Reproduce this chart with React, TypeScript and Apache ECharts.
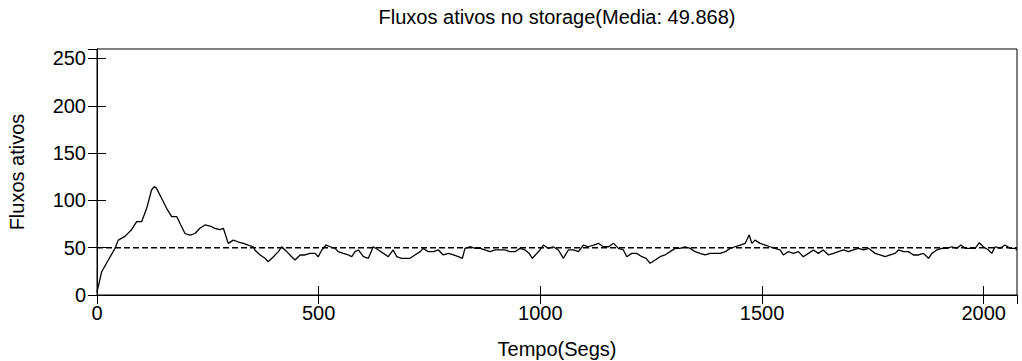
import React, { useEffect, useRef } from "react";
import * as echarts from "echarts";

const TITLE = "Fluxos ativos no storage(Media: 49.868)";
const X_NAME = "Tempo(Segs)";
const Y_NAME = "Fluxos ativos";
const MEAN = 49.868;
const X_MAX = 2075;
const Y_MAX = 260;

const times: number[] = [
  0, 10.6, 25.6, 40.6, 48, 63, 78, 89.5, 100.7, 112, 123, 129, 134, 146, 157, 168.5, 180, 187, 198.5, 210,
  221, 232, 243.6, 255, 266, 277.5, 285, 296, 307.5, 319, 330, 341, 352.5,
  356, 368, 379, 386, 398, 409, 416.6, 428, 439, 446.7, 458, 469, 480.5, 492, 499, 507, 516.6, 526, 537, 544,
  555.6, 567, 574.5, 582, 589.5, 601, 612, 623, 634.6, 646, 657, 668, 676, 687,
  706, 717, 729, 736, 747, 759, 770, 781, 792.5, 804, 815, 824, 830, 841, 853, 864, 875, 886.5, 898, 909, 920,
  931.6, 943, 954, 965.5, 974.5, 982, 992, 999, 1007, 1018, 1029, 1040.6,
  1052, 1063, 1074.5, 1086, 1097, 1108, 1120, 1131, 1142, 1154, 1165, 1176, 1187, 1195, 1206, 1217, 1229,
  1238.5, 1247.5, 1259, 1270, 1281, 1292.6, 1304, 1315, 1326.4, 1338, 1349, 1360, 1371.5, 1383, 1394,
  1405.4, 1417, 1428, 1439, 1450.5, 1462, 1471, 1477, 1484, 1495.6, 1507, 1518, 1529, 1540.7, 1548, 1559,
  1571, 1582, 1593, 1604.6, 1616, 1627, 1638, 1650, 1661, 1672, 1683.5, 1695, 1706, 1717, 1729, 1740,
  1755, 1766, 1777.6, 1789, 1800, 1807.6, 1819, 1830, 1841.5, 1853, 1864, 1875.5, 1883, 1894, 1905.5, 1917,
  1928, 1939.5, 1948.5, 1958, 1969, 1980.6, 1990, 1999, 2010.6, 2018, 2025.7, 2037, 2048, 2059.6, 2071, 2075,
];

const flows: number[] = [
  3, 24.6, 37, 49.3, 58, 62, 69, 77.5, 77.5, 91.6, 111, 114.5, 113, 102, 91.6, 82.8, 82.8, 75.8, 65, 63.4,
  65, 70.5, 74, 72.9, 70.5, 69, 70.5, 54.6, 58, 56, 54.6, 52.8, 51,
  47.6, 42.3, 38.8, 35.2, 40.5, 45.8, 51, 45.8, 40.5, 37, 42.3, 42.3, 44, 44, 40.5, 47.6, 52.8, 51, 49.3, 45.8,
  44, 42.3, 40.5, 45.8, 47.6, 40.5, 38.8, 51, 47.6, 44, 40.5, 47.6, 40.5, 38.8,
  38.8, 42.3, 45.8, 49.3, 45.8, 45.8, 47.6, 42.3, 44, 42.3, 40.5, 38.8, 49.3, 51, 49.3, 49.3, 47.6, 45.8, 47.6, 47.6, 47.6,
  45.8, 45.8, 49.3, 47.6, 44, 38.8, 44, 47.6, 52.8, 49.3, 51, 47.6,
  38.8, 47.6, 47.6, 45.8, 52.8, 51, 52.8, 54.6, 51, 51, 54.6, 49.3, 47.6, 40.5, 44, 44, 40.5,
  38.8, 33.5, 37, 40.5, 42.3, 45.8, 49.3, 49.3, 51, 49.3, 45.8, 44, 42.3, 44, 44,
  44, 45.8, 49.3, 51, 52.8, 54.6, 63.4, 54.6, 58, 54.6, 52.8, 51, 49.3, 47.6, 42.3, 45.8,
  44, 45.8, 40.5, 44, 47.6, 44, 47.6, 42.3, 44, 45.8, 47.6, 45.8, 47.6, 49.3, 47.6, 49.3,
  44, 42.3, 40.5, 42.3, 44, 47.6, 45.8, 45.8, 42.3, 42.3, 44, 38.8, 44, 47.6, 49.3, 49.3,
  51, 49.3, 52.8, 49.3, 49.3, 49.3, 55.3, 51, 47.6, 44, 51, 49.3, 52.8, 49.3, 49.3, 47.6,
];

const X_TICKS = [0, 500, 1000, 1500, 2000];
const Y_TICKS = [0, 50, 100, 150, 200, 250];

export default function App() {
  const ref = useRef<HTMLDivElement>(null);
  useEffect(() => {
    if (!ref.current) return;
    const chart = echarts.init(ref.current, null, { renderer: "svg", width: 1022, height: 361 });
    const font = "'Liberation Sans', Arial, sans-serif";
    const tickStyle = { show: true, inside: true, length: 9, lineStyle: { color: "#000", width: 1 } };
    const mainData = times.map((t, i) => [t, flows[i]]);
    const meanData = [[0, MEAN], [X_MAX, MEAN]];
    chart.setOption({
      animation: false,
      backgroundColor: "#fff",
      grid: [{
        left: 97, right: 5, top: 49, bottom: 66,
        containLabel: false, outerBoundsMode: "none",
        show: true, borderColor: "#000", borderWidth: 1, backgroundColor: "transparent",
      }],
      graphic: [
        {
          type: "text",
          x: 557,
          y: 7,
          style: { text: TITLE, fill: "#000", font: `20px ${font}`, textAlign: "center" },
        },
      ],
      xAxis: [
        {
          type: "value",
          min: 0,
          max: X_MAX,
          interval: 500,
          position: "bottom",
          axisLine: { show: true, lineStyle: { color: "#000" } },
          axisTick: tickStyle,
          splitLine: { show: false },
          axisLabel: {
            showMaxLabel: false,
            margin: 8,
            color: "#000",
            fontSize: 20,
            fontFamily: font,
            formatter: (v: number) => (X_TICKS.includes(v) ? String(v) : ""),
          },
          name: X_NAME,
          nameLocation: "middle",
          nameGap: 44,
          nameTextStyle: { color: "#000", fontSize: 20, fontFamily: font },
        },
        {
          type: "value",
          min: 0,
          max: X_MAX,
          interval: 500,
          position: "top",
          axisLine: { show: true, lineStyle: { color: "#000" } },
          axisTick: tickStyle,
          splitLine: { show: false },
          axisLabel: { show: false },
        },
      ],
      yAxis: [
        {
          type: "value",
          min: 0,
          max: Y_MAX,
          interval: 50,
          position: "left",
          axisLine: { show: true, lineStyle: { color: "#000" } },
          axisTick: tickStyle,
          splitLine: { show: false },
          axisLabel: {
            showMaxLabel: false,
            margin: 11,
            color: "#000",
            fontSize: 20,
            fontFamily: font,
            formatter: (v: number) => (Y_TICKS.includes(v) ? String(v) : ""),
          },
          name: Y_NAME,
          nameLocation: "middle",
          nameGap: 70,
          nameRotate: 90,
          nameTextStyle: { color: "#000", fontSize: 20, fontFamily: font },
        },
        {
          type: "value",
          min: 0,
          max: Y_MAX,
          interval: 50,
          position: "right",
          axisLine: { show: true, lineStyle: { color: "#000" } },
          axisTick: tickStyle,
          splitLine: { show: false },
          axisLabel: { show: false },
        },
      ],
      series: [
        {
          type: "line",
          data: mainData,
          showSymbol: false,
          symbol: "none",
          lineStyle: { color: "#000", width: 1.3 },
          xAxisIndex: 0,
          yAxisIndex: 0,
        },
        {
          type: "line",
          data: meanData,
          showSymbol: false,
          symbol: "none",
          lineStyle: { color: "#000", width: 1.6, type: [6, 3] },
          xAxisIndex: 0,
          yAxisIndex: 0,
        },
      ],
    });
    return () => chart.dispose();
  }, []);
  return <div ref={ref} style={{ position: "fixed", left: 0, top: 0, width: 1022, height: 361 }} />;
}
